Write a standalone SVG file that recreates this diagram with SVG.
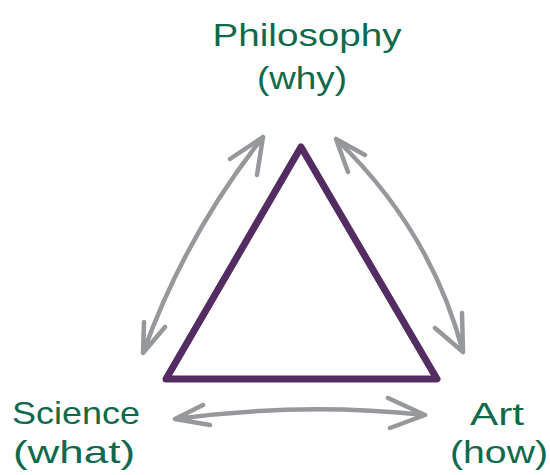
<svg xmlns="http://www.w3.org/2000/svg" width="550" height="475" viewBox="0 0 550 475">
<style>
.lbl{font-family:"Liberation Sans","Open Sans",sans-serif;font-size:32px;fill:#0f6a4d;text-anchor:middle}
.arr{fill:none;stroke:#97989b;stroke-width:4.5;stroke-linecap:round;stroke-linejoin:round}
.tri{fill:none;stroke:#532c61;stroke-width:7;stroke-linejoin:round;stroke-linecap:round}
</style>
<rect width="550" height="475" fill="#ffffff"/>
<g id="connectors">
<path class="arr" d="M143,353 Q186,234 263,137 M230,159 L263,137 L257,175 M144,322 L143,353 L165,327"/>
<path class="arr" d="M336,139 Q431,230 463,352 M365,155 L336,139 L348,172 M435,328 L463,352 L462,313"/>
<path class="arr" d="M175,419 Q300,402 425,415 M203,405 L175,419 L210,425 M388,398 L425,415 L390,428"/>
</g>
<g id="triangle">
<path class="tri" d="M301,147 L437,379 L166,379 Z"/>
</g>
<g id="philosophy">
<text class="lbl" x="307" y="46" textLength="189" lengthAdjust="spacingAndGlyphs">Philosophy</text>
<text class="lbl" x="302" y="89" textLength="90" lengthAdjust="spacingAndGlyphs">(why)</text>
</g>
<g id="science">
<text class="lbl" x="76" y="424" textLength="128" lengthAdjust="spacingAndGlyphs">Science</text>
<text class="lbl" x="74" y="463" textLength="122" lengthAdjust="spacingAndGlyphs">(what)</text>
</g>
<g id="art">
<text class="lbl" x="497" y="425" textLength="54" lengthAdjust="spacingAndGlyphs">Art</text>
<text class="lbl" x="499" y="463" textLength="98" lengthAdjust="spacingAndGlyphs">(how)</text>
</g>
</svg>
